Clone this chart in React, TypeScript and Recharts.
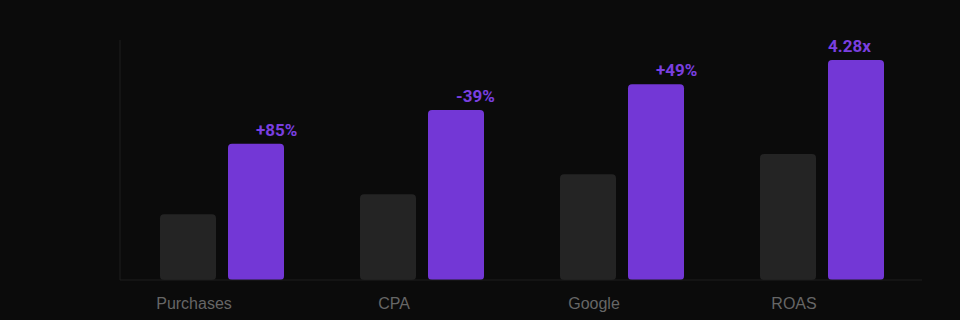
import { Bar, BarChart, CartesianGrid, LabelList, XAxis, YAxis } from 'recharts';

const categories = ['Purchases', 'CPA', 'Google', 'ROAS'];
const before = [1.28, 1.67, 2.06, 2.45];
const after = [2.65, 3.31, 3.81, 4.28];
const changeLabels = ['+85%', '-39%', '+49%', '4.28x'];

const Y_MAX = 4.67;
const yTicks = [0, Y_MAX / 4, Y_MAX / 2];

const data = categories.map((name, i) => ({
  name,
  before: before[i],
  after: after[i],
  label: changeLabels[i],
}));

const PURPLE = '#7337d6';

function ChangeLabel(props: any) {
  const { x, y, width, index, value } = props;
  // the ROAS multiple sits flush with the bar's left edge, the rest start at the middle
  const lx = index === categories.length - 1 ? x : x + width / 2;
  return (
    <text
      x={lx}
      y={y - 8}
      textAnchor="start"
      fill="#7a3fe0"
      fontFamily="Roboto, sans-serif"
      fontWeight={700}
      fontSize={17}
    >
      {value}
    </text>
  );
}

export default function App() {
  return (
    <div style={{ position: 'fixed', left: 0, top: 0, width: 960, height: 320, background: '#0b0b0b' }}>
      <BarChart
        width={960}
        height={320}
        data={data}
        margin={{ top: 40, right: 38, bottom: 10, left: 0 }}
        barGap={12}
        barCategoryGap={38}
      >
        <CartesianGrid vertical={false} stroke="#161616" horizontalValues={yTicks.slice(1)} />
        <YAxis
          width={120}
          domain={[0, Y_MAX]}
          ticks={yTicks}
          tick={false}
          tickLine={false}
          axisLine={{ stroke: '#1e1e1e' }}
        />
        <XAxis
          dataKey="name"
          height={30}
          padding={{ left: 2, right: 0 }}
          tickLine={false}
          axisLine={{ stroke: '#1e1e1e' }}
          tickMargin={12}
          tick={{ fill: '#666666', fontSize: 16, fontFamily: 'Liberation Sans, Arial, sans-serif', dx: -28 }}
        />
        <Bar dataKey="before" fill="#242424" barSize={56} radius={4} isAnimationActive={false} />
        <Bar dataKey="after" fill={PURPLE} barSize={56} radius={4} isAnimationActive={false}>
          <LabelList dataKey="label" content={ChangeLabel} />
        </Bar>
      </BarChart>
    </div>
  );
}
